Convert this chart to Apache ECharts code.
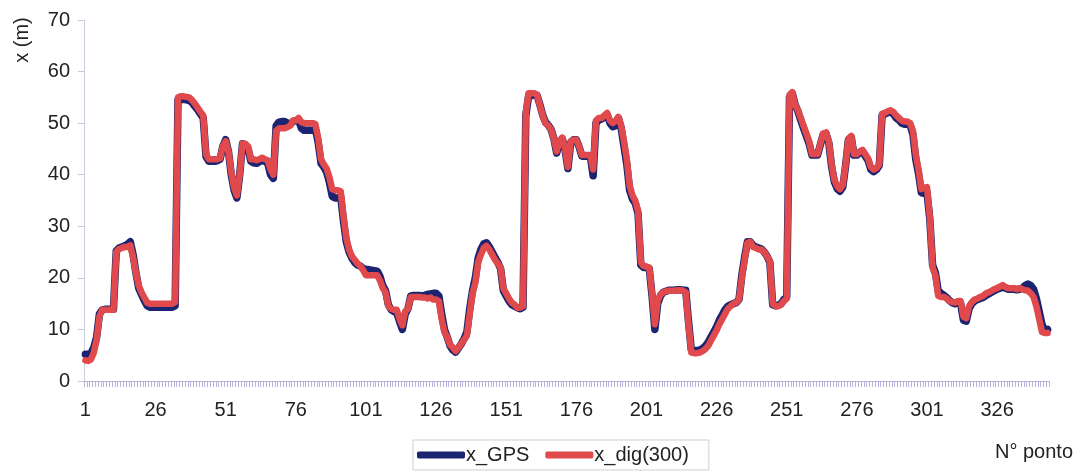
<!DOCTYPE html>
<html><head><meta charset="utf-8">
<script src="https://cdn.jsdelivr.net/npm/echarts@6/dist/echarts.min.js"></script>
<style>html,body{margin:0;padding:0;background:#fff}#c{width:1080px;height:475px}</style>
</head><body><div id="c"></div>
<script>
// x_dig(300) values, points 1..344
const xDig = [
4.0,3.9,4.2,5.5,8.0,12.5,13.8,13.8,13.8,13.8,
13.8,25.0,25.6,25.8,26.0,26.0,26.3,24.0,21.0,18.5,
17.2,16.2,15.2,15.0,15.0,15.0,15.0,15.0,15.0,15.0,
15.0,15.0,15.3,55.0,55.2,55.2,55.1,55.0,54.5,53.8,
53.0,52.2,51.5,44.0,43.0,43.0,43.0,43.0,43.2,45.5,
46.5,44.5,40.5,37.5,36.0,40.0,46.0,46.0,45.5,43.0,
43.0,42.8,43.0,43.3,43.0,42.8,41.0,40.0,48.5,49.0,
49.0,49.0,49.2,49.5,50.5,50.5,51.0,50.2,50.0,50.0,
50.0,50.0,49.8,47.0,43.0,42.0,41.2,39.5,37.2,37.0,
37.0,36.8,32.0,27.8,25.5,24.2,23.5,22.8,22.3,21.5,
20.5,20.5,20.5,20.5,20.5,19.5,18.0,17.2,14.5,14.0,
13.8,13.8,12.0,10.8,13.5,14.0,16.3,16.3,16.3,16.3,
16.2,16.2,16.0,16.2,15.8,15.8,15.5,12.0,9.5,8.5,
7.0,6.5,5.8,6.5,7.2,8.0,8.8,13.0,17.0,19.0,
23.0,24.5,25.8,26.2,25.5,24.5,23.5,22.8,22.0,18.0,
17.0,16.0,15.2,14.8,14.2,14.2,14.5,52.0,55.8,55.8,
55.8,55.5,53.5,51.5,50.0,49.5,48.8,47.0,44.5,46.5,
47.2,45.0,41.5,46.5,46.8,46.8,45.5,43.8,43.8,43.8,
43.8,41.0,50.5,51.0,51.0,51.5,52.0,50.5,50.0,50.5,
51.2,49.5,46.5,43.0,38.0,36.0,35.0,33.0,23.0,22.3,
22.2,22.0,17.0,11.0,15.5,16.8,17.2,17.4,17.5,17.5,
17.5,17.6,17.6,17.5,17.2,11.0,5.5,5.4,5.4,5.5,
5.8,6.2,6.8,7.8,8.8,9.8,11.0,12.0,13.0,14.0,
14.5,15.0,15.2,15.8,20.0,23.5,26.8,27.0,26.0,25.8,
25.5,25.5,25.0,24.2,23.2,15.0,14.5,14.5,14.8,15.5,
16.0,55.5,56.0,53.5,52.5,51.0,49.5,48.0,46.5,44.0,
44.0,44.0,46.0,48.0,48.2,46.5,42.0,39.0,37.8,37.2,
38.0,42.0,47.0,47.5,44.0,44.0,44.5,44.8,44.0,43.2,
41.5,41.0,41.3,42.0,51.8,52.0,52.3,52.5,52.2,51.5,
51.0,50.5,50.3,50.3,50.0,48.5,44.0,41.0,37.2,37.5,
37.6,32.0,22.0,20.5,16.5,16.3,16.3,16.0,15.5,15.3,
15.2,15.5,15.5,12.5,12.2,14.5,15.3,15.8,16.0,16.3,
16.5,17.0,17.2,17.5,17.8,18.0,18.3,18.6,18.2,18.0,
18.0,18.0,17.8,18.0,17.8,17.6,17.5,17.0,16.3,14.5,
12.0,9.5,9.3,9.3
];
// x_GPS values, points 1..344
const xGps = [
5.2,5.2,5.4,6.5,8.5,13.0,13.8,13.9,13.9,13.9,
13.9,25.2,25.8,26.0,26.2,26.5,27.0,24.5,21.0,18.0,
16.8,15.6,14.6,14.3,14.3,14.3,14.3,14.3,14.3,14.3,
14.3,14.3,14.6,54.5,54.6,54.6,54.5,54.4,54.0,53.3,
52.6,51.8,51.0,43.5,42.6,42.6,42.6,42.7,43.0,45.5,
46.8,44.5,40.0,37.0,35.5,40.0,46.0,45.8,45.0,42.6,
42.3,42.2,42.5,42.8,42.6,42.2,40.0,39.3,49.5,50.2,
50.3,50.3,50.0,49.8,50.3,50.5,50.6,49.0,48.6,48.6,
48.6,48.6,48.8,46.2,42.2,41.5,40.5,38.5,35.8,35.5,
35.5,35.8,31.0,27.0,25.0,23.8,23.0,22.5,22.3,21.8,
21.6,21.6,21.5,21.4,21.3,20.3,18.5,17.5,14.8,13.8,
13.5,13.2,11.5,10.0,13.0,14.0,16.5,16.6,16.6,16.6,
16.5,16.6,16.8,16.9,17.0,17.0,16.5,13.0,10.0,8.5,
6.8,6.0,5.6,6.4,7.2,8.2,9.5,14.0,17.5,20.0,
23.8,25.5,26.6,26.8,26.0,25.0,24.0,23.0,21.8,17.5,
16.5,15.5,14.8,14.5,14.2,14.0,14.3,51.5,55.3,55.3,
55.6,55.4,53.6,51.6,50.2,49.6,48.8,47.0,44.2,46.3,
47.0,44.8,41.2,46.2,46.8,46.8,45.4,43.6,43.6,43.6,
43.6,39.8,50.0,50.6,50.8,51.2,51.6,50.0,49.3,49.5,
51.0,49.0,45.5,42.0,37.0,35.3,34.5,32.5,22.5,22.0,
22.0,21.8,16.5,10.0,15.0,16.5,17.2,17.4,17.6,17.6,
17.6,17.7,17.7,17.6,17.6,11.5,6.0,5.9,5.9,6.0,
6.3,6.8,7.5,8.5,9.5,10.5,11.8,12.8,13.8,14.5,
14.8,15.0,15.2,15.8,20.5,24.0,27.0,27.0,26.3,26.0,
25.8,25.6,25.0,24.2,23.0,14.8,14.6,14.7,15.0,15.8,
16.3,55.0,55.8,53.6,52.3,50.6,49.0,47.5,46.0,43.8,
43.8,43.8,45.8,47.8,48.0,46.2,41.6,38.6,37.3,36.8,
37.6,41.8,46.8,47.3,43.8,43.8,44.3,44.6,43.6,42.8,
41.0,40.6,41.0,41.8,51.5,51.8,52.0,52.2,51.8,51.0,
50.6,50.0,49.8,49.8,49.6,47.8,43.0,40.2,36.5,36.4,
36.6,31.5,22.5,21.0,17.5,17.0,16.6,16.2,15.6,15.2,
15.0,15.2,15.0,11.8,11.6,14.0,15.0,15.5,15.8,16.0,
16.2,16.6,16.9,17.2,17.5,17.8,18.0,18.2,18.0,17.8,
17.8,17.8,17.7,17.8,18.0,18.5,18.8,18.5,17.8,16.0,
13.5,11.0,9.8,10.0
];
const yTicks = [0,10,20,30,40,50,60,70];
const categories = xDig.map((v,i)=>String(i+1));

const chart = echarts.init(document.getElementById('c'), null, {renderer:'canvas'});
const font = 'Liberation Sans, Arial, sans-serif';
chart.setOption({
  animation:false,
  backgroundColor:'#ffffff',
  grid:{left:84,right:31,top:20,bottom:94},
  xAxis:{
    type:'category', data:categories, boundaryGap:true,
    axisLine:{lineStyle:{color:'#b9b6d8',width:1}},
    axisTick:{show:true,interval:0,length:6,lineStyle:{color:'#b6b3dc',width:1}},
    axisLabel:{interval:24,color:'#222',fontSize:20,fontFamily:font,margin:19},
    splitLine:{show:false}
  },
  yAxis:{
    type:'value', min:0, max:70, interval:10,
    axisLine:{show:true,lineStyle:{color:'#cdcde0',width:1}},
    axisTick:{show:true,length:6,lineStyle:{color:'#c9c9dc'}},
    axisLabel:{color:'#222',fontSize:20,fontFamily:font,margin:14,
      formatter:v=>yTicks.includes(v)?String(v):''},
    splitLine:{show:false}
  },
  legend:{
    left:413, top:440, height:32,
    padding:[5,20,5,4],
    itemGap:16, itemWidth:48, itemHeight:7,
    borderColor:'#cfcfcf', borderWidth:1,
    icon:'roundRect',
    textStyle:{color:'#222',fontSize:20,fontFamily:font,padding:[0,0,0,-4]},
    data:['x_GPS','x_dig(300)']
  },
  graphic:[
    {type:'text', x:22, y:40, rotation:Math.PI/2, style:{text:'x (m)', fill:'#222', font:'20px '+font, align:'center', verticalAlign:'middle'}},
    {type:'text', x:1034, y:452, style:{text:'N° ponto', fill:'#222', font:'20px '+font, align:'center', verticalAlign:'middle'}}
  ],
  series:[
    {name:'x_GPS', type:'line', data:xGps, showSymbol:false, symbol:'none',
      lineStyle:{color:'#1b2470',width:7.5,join:'round',cap:'round'}, itemStyle:{color:'#1b2470'}, z:2},
    {name:'x_dig(300)', type:'line', data:xDig, showSymbol:false, symbol:'none',
      lineStyle:{color:'#e04a4c',width:6.5,join:'round',cap:'round'}, itemStyle:{color:'#e04a4c'}, z:3}
  ]
});
</script></body></html>
